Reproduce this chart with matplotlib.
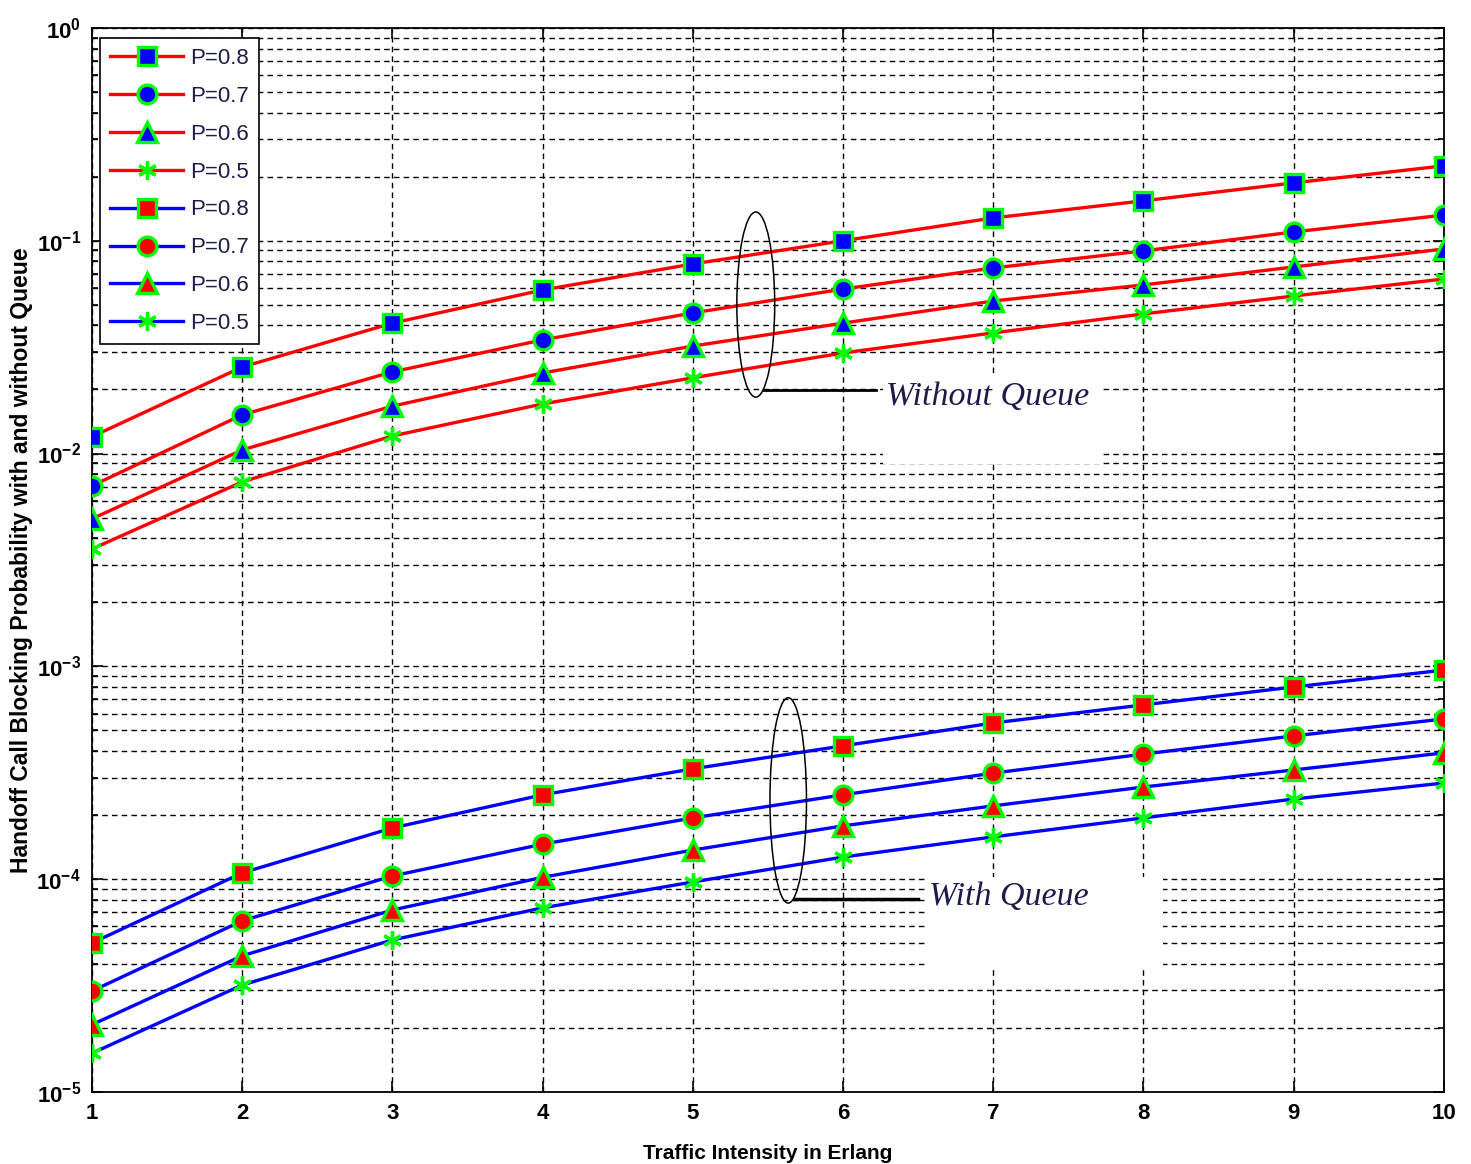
import matplotlib
matplotlib.use("Agg")
import matplotlib.pyplot as plt
import numpy as np
from matplotlib.patches import Ellipse, Rectangle
from matplotlib.ticker import FixedLocator, FixedFormatter, LogLocator, NullFormatter


RED = "#ff0000"
BLUE = "#0000ff"
GREEN = "#00ff00"
TEXT_COLOR = "#1c1c4a"

plt.rcParams["font.family"] = ["Liberation Sans", "DejaVu Sans"]
plt.rcParams["mathtext.fontset"] = "custom"
plt.rcParams["mathtext.bf"] = "Liberation Sans:bold"
plt.rcParams["mathtext.rm"] = "Liberation Sans"

traffic = [1, 2, 3, 4, 5, 6, 7, 8, 9, 10]
probs = ["0.8", "0.7", "0.6", "0.5"]
markers = ["s", "o", "^", (6, 2, 0)]

# blocking probability without queue
no_queue_08 = [0.0120, 0.0255, 0.0410, 0.0587, 0.0778, 0.100, 0.128, 0.154, 0.187, 0.225]
no_queue_07 = [0.00705, 0.0152, 0.0242, 0.0342, 0.0458, 0.0593, 0.0745, 0.0896, 0.110, 0.132]
no_queue_06 = [0.00493, 0.0104, 0.0167, 0.0239, 0.0320, 0.0410, 0.0521, 0.0620, 0.0753, 0.0915]
no_queue_05 = [0.00356, 0.00736, 0.0121, 0.0171, 0.0227, 0.0297, 0.0369, 0.0453, 0.0550, 0.0661]

# blocking probability with queue
queue_08 = [5.01e-5, 1.07e-4, 1.74e-4, 2.49e-4, 3.30e-4, 4.23e-4, 5.42e-4, 6.59e-4, 8.00e-4, 9.60e-4]
queue_07 = [2.98e-5, 6.37e-5, 1.035e-4, 1.46e-4, 1.94e-4, 2.49e-4, 3.15e-4, 3.87e-4, 4.71e-4, 5.66e-4]
queue_06 = [2.07e-5, 4.36e-5, 7.16e-5, 1.02e-4, 1.37e-4, 1.78e-4, 2.21e-4, 2.71e-4, 3.26e-4, 3.92e-4]
queue_05 = [1.52e-5, 3.18e-5, 5.18e-5, 7.33e-5, 9.70e-5, 1.27e-4, 1.58e-4, 1.94e-4, 2.38e-4, 2.83e-4]

y_ticks = [1e-5, 1e-4, 1e-3, 1e-2, 1e-1, 1e0]
y_tick_labels = [r"$\mathbf{10^{-5}}$", r"$\mathbf{10^{-4}}$", r"$\mathbf{10^{-3}}$",
                 r"$\mathbf{10^{-2}}$", r"$\mathbf{10^{-1}}$", r"$\mathbf{10^{0}}$"]


def plot():
    fig = plt.figure(figsize=(14.71, 11.64), dpi=100, facecolor="white")
    ax = fig.add_axes([0.0625, 0.0619, 0.9191, 0.9141])

    no_queue = [no_queue_08, no_queue_07, no_queue_06, no_queue_05]
    with_queue = [queue_08, queue_07, queue_06, queue_05]

    for p, m, ys in zip(probs, markers, no_queue):
        ms = 14.5 if m == "^" else 13.5
        ax.plot(traffic, ys, color=RED, lw=2.4, marker=m, ms=ms,
                mfc=BLUE, mec=GREEN, mew=2.4, label="P=" + p, zorder=3)
    for p, m, ys in zip(probs, markers, with_queue):
        ms = 14.5 if m == "^" else 13.5
        ax.plot(traffic, ys, color=BLUE, lw=2.4, marker=m, ms=ms,
                mfc=RED, mec=GREEN, mew=2.4, label="P=" + p, zorder=3)

    ax.set_yscale("log")
    ax.set_xlim(1, 10)
    ax.set_ylim(1e-5, 1e0)

    ax.set_xticks(traffic)
    ax.set_xticklabels([str(t) for t in traffic], fontweight="bold", fontsize=16)
    ax.yaxis.set_major_locator(FixedLocator(y_ticks))
    ax.yaxis.set_major_formatter(FixedFormatter(y_tick_labels))
    ax.yaxis.set_minor_locator(LogLocator(base=10, subs=np.arange(2, 10)))
    ax.yaxis.set_minor_formatter(NullFormatter())
    for lab in ax.get_yticklabels():
        lab.set_fontsize(16)

    ax.tick_params(which="both", direction="in", top=True, right=True, width=1.2)
    ax.tick_params(which="major", length=8, pad=8)
    ax.tick_params(which="minor", length=4)

    ax.grid(which="major", axis="both", color="black", linestyle=(0, (4, 3)), linewidth=1.0)
    ax.grid(which="minor", axis="y", color="black", linestyle=(0, (4, 3)), linewidth=1.0)
    ax.set_axisbelow(True)
    for s in ax.spines.values():
        s.set_linewidth(1.3)

    ax.set_xlabel("Traffic Intensity in Erlang", fontweight="bold", fontsize=15, labelpad=14)
    ax.set_ylabel("Handoff Call Blocking Probability with and without Queue",
                  fontweight="bold", fontsize=16.5, labelpad=2)

    leg = ax.legend(loc="upper left", bbox_to_anchor=(0.006, 0.9906), borderaxespad=0,
                    fontsize=16, handlelength=3.3, labelspacing=0.76, fancybox=False,
                    framealpha=1, edgecolor="black", borderpad=0.45, handletextpad=0.3)
    leg.get_frame().set_linewidth(1.2)
    for t in leg.get_texts():
        t.set_color(TEXT_COLOR)

    # white patches hiding the grid behind the annotations
    ax.add_patch(Rectangle((0.585, 0.590), 0.161, 0.085, transform=ax.transAxes,
                           facecolor="white", edgecolor="none", zorder=1.5))
    ax.add_patch(Rectangle((0.617, 0.116), 0.175, 0.086, transform=ax.transAxes,
                           facecolor="white", edgecolor="none", zorder=1.5))

    # "Without Queue" annotation
    ax.add_patch(Ellipse((0.491, 0.740), 0.028, 0.174, transform=ax.transAxes,
                         facecolor="none", edgecolor="black", lw=1.1, zorder=4))
    ax.plot([0.497, 0.580], [0.660, 0.660], transform=ax.transAxes, color="black", lw=2, zorder=4)
    ax.text(0.587, 0.653, "Without Queue", transform=ax.transAxes, fontsize=24.5,
            family=["Liberation Serif"], style="italic", color=TEXT_COLOR,
            va="center", ha="left", zorder=5)

    # "With Queue" annotation
    ax.add_patch(Ellipse((0.515, 0.274), 0.027, 0.193, transform=ax.transAxes,
                         facecolor="none", edgecolor="black", lw=1.1, zorder=4))
    ax.plot([0.520, 0.611], [0.181, 0.181], transform=ax.transAxes, color="black", lw=2.5, zorder=4)
    ax.text(0.619, 0.183, "With Queue", transform=ax.transAxes, fontsize=24.5,
            family=["Liberation Serif"], style="italic", color=TEXT_COLOR,
            va="center", ha="left", zorder=5)

    fig.savefig("out.png", dpi=100, facecolor="white")


if __name__ == "__main__":
    plot()
